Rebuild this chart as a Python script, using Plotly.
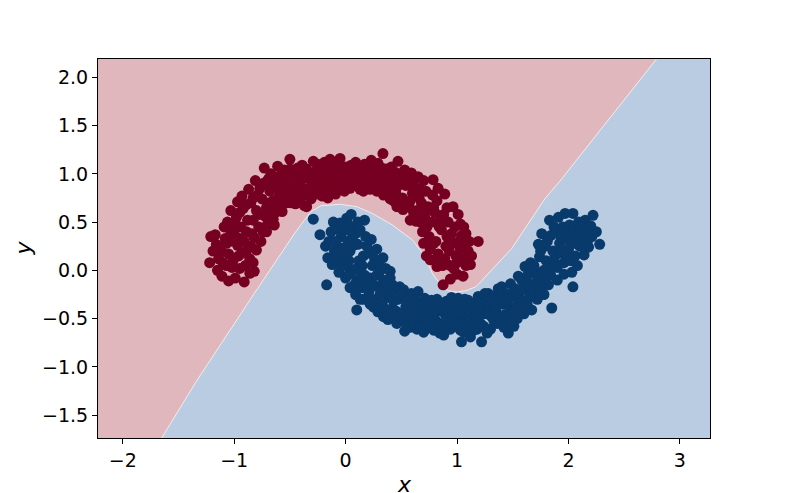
import plotly.graph_objects as go

# axis extents and ticks
x_range = [-2.222, 3.27]
y_range = [-1.737, 2.19]
x_ticks = [-2, -1, 0, 1, 2, 3]
y_ticks = [-1.5, -1.0, -0.5, 0.0, 0.5, 1.0, 1.5, 2.0]

# decision boundary
boundary_x = [-1.65, -1.34, -0.82, -0.46, -0.37, -0.31, -0.22, -0.05, 0.10, 0.24, 0.42,
              0.60, 0.71, 0.78, 0.86, 0.92, 1.00, 1.08, 1.17, 1.31, 1.49, 1.79, 1.92, 2.79]
boundary_y = [-1.737, -1.15, -0.24, 0.38, 0.52, 0.61, 0.67, 0.685, 0.66, 0.59, 0.47,
              0.315, 0.145, -0.035, -0.16, -0.21, -0.225, -0.21, -0.17, 0.005, 0.225, 0.745, 0.92, 2.19]

# class 0 (upper moon)
red_points = [
    (-1.22, 0.08), (-1.21, 0.35), (-1.19, 0.20),
    (-1.15, 0.00), (-1.17, 0.37), (-1.14, 0.12), (-1.16, 0.27),
    (-1.11, -0.06), (-1.09, 0.45), (-1.12, 0.22), (-1.08, 0.33), (-1.10, 0.08),
    (-1.05, -0.11), (-1.03, 0.62), (-1.06, 0.50), (-1.02, 0.03), (-1.04, 0.30), (-1.05, 0.17), (-1.03, 0.40),
    (-0.99, -0.08), (-0.97, 0.71), (-0.98, 0.55), (-0.96, 0.15), (-1.00, 0.38), (-0.97, 0.26),
    (-0.91, -0.12), (-0.93, 0.77), (-0.92, 0.64), (-0.90, 0.05), (-0.94, 0.45), (-0.91, 0.30), (-0.93, 0.18),
    (-0.86, -0.03), (-0.87, 0.84), (-0.85, 0.70), (-0.88, 0.52), (-0.84, 0.38), (-0.86, 0.12), (-0.85, 0.25),
    (-0.82, -0.01), (-0.80, 0.21), (-0.81, 0.93), (-0.79, 0.78), (-0.80, 0.62), (-0.78, 0.45), (-0.82, 0.34),
    (-0.73, 1.06), (-0.74, 0.90), (-0.75, 0.74), (-0.72, 0.56), (-0.74, 0.40), (-0.76, 0.30),
    (-0.69, 0.95), (-0.67, 1.00), (-0.68, 0.82), (-0.66, 0.62), (-0.70, 0.48), (-0.68, 0.70),
    (-0.61, 1.08), (-0.64, 0.47), (-0.62, 0.93), (-0.60, 0.76), (-0.63, 0.60), (-0.61, 0.85),
    (-0.57, 0.61), (-0.55, 1.04), (-0.56, 0.90), (-0.58, 0.75), (-0.54, 0.82), (-0.56, 0.96),
    (-0.50, 1.15), (-0.49, 0.70), (-0.51, 0.98), (-0.48, 0.85), (-0.52, 0.78), (-0.50, 1.05),
    (-0.45, 0.69), (-0.43, 1.06), (-0.44, 0.92), (-0.46, 0.80), (-0.42, 0.99),
    (-0.37, 0.67), (-0.39, 1.09), (-0.38, 0.85), (-0.36, 0.96), (-0.40, 0.76),
    (-0.35, 0.66), (-0.31, 0.74), (-0.29, 1.13), (-0.33, 1.01), (-0.30, 0.88), (-0.32, 0.94),
    (-0.26, 0.79), (-0.25, 1.10), (-0.27, 0.97), (-0.24, 0.88), (-0.26, 1.04),
    (-0.21, 0.77), (-0.19, 1.12), (-0.20, 0.90), (-0.18, 1.00), (-0.22, 0.84),
    (-0.16, 0.75), (-0.14, 1.15), (-0.13, 0.86), (-0.15, 1.05), (-0.12, 0.96),
    (-0.09, 0.79), (-0.07, 1.11), (-0.08, 0.93), (-0.06, 1.02), (-0.10, 0.87),
    (-0.05, 1.16), (-0.01, 0.82), (-0.02, 0.98), (0.00, 1.07), (-0.03, 0.90),
    (0.04, 0.85), (0.05, 1.09), (0.03, 0.95), (0.06, 1.01), (0.02, 0.91),
    (0.11, 0.87), (0.13, 0.96), (0.09, 1.12), (0.10, 1.03), (0.12, 0.92),
    (0.16, 0.82), (0.17, 1.10), (0.15, 0.98), (0.18, 0.90), (0.14, 1.05),
    (0.22, 0.84), (0.23, 1.14), (0.21, 0.96), (0.24, 1.04), (0.20, 0.90),
    (0.28, 0.82), (0.29, 1.11), (0.27, 0.92), (0.30, 1.00), (0.26, 1.06),
    (0.34, 0.78), (0.335, 1.21), (0.33, 0.90), (0.36, 1.05), (0.35, 0.97),
    (0.40, 0.74), (0.41, 1.07), (0.39, 0.85), (0.42, 0.96), (0.38, 1.01),
    (0.46, 0.66), (0.47, 1.13), (0.45, 0.80), (0.48, 0.92), (0.44, 1.02), (0.46, 0.86),
    (0.515, 0.63), (0.53, 1.04), (0.51, 0.75), (0.54, 0.88), (0.52, 0.96),
    (0.58, 0.52), (0.59, 1.01), (0.57, 0.66), (0.60, 0.80), (0.56, 0.92), (0.58, 0.72),
    (0.63, 0.51), (0.65, 0.97), (0.64, 0.62), (0.66, 0.75), (0.62, 0.86), (0.65, 0.56),
    (0.725, 0.15), (0.70, 0.93), (0.69, 0.40), (0.71, 0.55), (0.68, 0.70), (0.72, 0.82), (0.70, 0.28),
    (0.76, 0.11), (0.785, 0.94), (0.75, 0.35), (0.77, 0.50), (0.74, 0.66), (0.78, 0.78), (0.76, 0.22),
    (0.82, 0.04), (0.83, 0.85), (0.81, 0.30), (0.84, 0.45), (0.80, 0.60), (0.82, 0.72), (0.83, 0.17),
    (0.875, -0.15), (0.89, 0.79), (0.87, 0.05), (0.90, 0.25), (0.86, 0.42), (0.88, 0.58), (0.89, 0.12),
    (0.94, -0.09), (0.964, 0.66), (0.93, 0.20), (0.95, 0.38), (0.92, 0.50), (0.94, 0.05),
    (1.00, -0.04), (1.01, 0.58), (0.99, 0.15), (1.02, 0.30), (0.98, 0.45), (1.00, 0.08),
    (1.054, -0.06), (1.06, 0.45), (1.05, 0.12), (1.07, 0.27), (1.04, 0.36),
    (1.10, 0.20), (1.11, 0.30), (1.12, 0.06), (1.13, 0.15),
    (1.19, 0.30),
    # denser middle of the band
    (-1.13, 0.18), (-1.07, 0.28), (-1.07, 0.05), (-1.01, 0.48), (-1.01, 0.10), (-0.95, 0.60),
    (-0.95, 0.33), (-0.95, 0.02), (-0.89, 0.68), (-0.89, 0.40), (-0.89, 0.20), (-0.83, 0.75),
    (-0.83, 0.52), (-0.83, 0.08), (-0.77, 0.85), (-0.77, 0.58), (-0.71, 0.92), (-0.71, 0.65),
    (-0.71, 0.40), (-0.65, 0.88), (-0.65, 0.72), (-0.65, 0.53), (-0.59, 0.98), (-0.59, 0.68),
    (-0.53, 0.92), (-0.53, 0.70), (-0.47, 1.00), (-0.47, 0.75), (-0.41, 0.88), (-0.41, 1.03),
    (-0.35, 0.78), (-0.35, 1.05), (-0.29, 0.82), (-0.29, 0.98), (-0.23, 0.94), (-0.23, 1.06),
    (-0.17, 0.82), (-0.17, 0.95), (-0.11, 1.06), (-0.11, 0.80), (-0.04, 0.85), (-0.04, 1.03),
    (0.01, 0.88), (0.07, 0.94), (0.07, 1.05), (0.13, 0.84), (0.13, 1.07), (0.19, 0.95),
    (0.19, 1.03), (0.25, 0.88), (0.25, 0.99), (0.31, 0.85), (0.31, 1.07), (0.37, 0.80),
    (0.37, 0.93), (0.43, 0.72), (0.43, 0.88), (0.49, 0.70), (0.49, 1.00), (0.55, 0.70),
    (0.55, 0.98), (0.61, 0.60), (0.61, 0.92), (0.67, 0.50), (0.67, 0.84), (0.73, 0.45),
    (0.73, 0.62), (0.79, 0.28), (0.79, 0.65), (0.85, 0.10), (0.85, 0.52), (0.91, 0.35),
    (0.91, 0.65), (0.97, 0.02), (0.97, 0.28), (1.03, 0.22), (1.03, 0.48), (1.08, 0.05),
    (1.08, 0.38),
]

# class 1 (lower moon)
blue_points = [
    (-0.29, 0.53), (-0.23, 0.37), (-0.17, -0.15),
    (-0.16, 0.13), (-0.18, 0.25), (-0.15, 0.30),
    (-0.12, 0.06), (-0.11, 0.50), (-0.13, 0.40), (-0.10, 0.20), (-0.12, 0.30),
    (-0.06, -0.02), (-0.05, 0.49), (-0.07, 0.12), (-0.04, 0.35), (-0.06, 0.24), (-0.05, 0.42),
    (0.00, -0.08), (0.01, 0.54), (-0.01, 0.15), (0.02, 0.30), (0.00, 0.42), (0.01, 0.05),
    (0.04, -0.18), (0.05, 0.58), (0.06, 0.00), (0.04, 0.20), (0.05, 0.45), (0.06, 0.34), (0.03, 0.10),
    (0.10, -0.41), (0.11, 0.50), (0.09, -0.25), (0.10, -0.10), (0.12, 0.10), (0.11, 0.27), (0.09, 0.38), (0.10, 0.02),
    (0.17, 0.52), (0.16, -0.30), (0.15, -0.18), (0.17, -0.05), (0.16, 0.15), (0.18, 0.35), (0.15, 0.05),
    (0.22, -0.35), (0.23, 0.32), (0.21, -0.22), (0.22, -0.08), (0.24, 0.05), (0.21, 0.18),
    (0.29, -0.43), (0.28, 0.22), (0.27, -0.30), (0.29, -0.17), (0.28, -0.05), (0.30, 0.08),
    (0.335, 0.13), (0.34, -0.48), (0.33, -0.35), (0.35, -0.22), (0.34, -0.10), (0.36, 0.02),
    (0.38, -0.51), (0.40, -0.01), (0.41, -0.40), (0.39, -0.28), (0.42, -0.15), (0.40, -0.08),
    (0.46, -0.55), (0.485, -0.17), (0.45, -0.42), (0.47, -0.30), (0.44, -0.20),
    (0.53, -0.63), (0.52, -0.20), (0.51, -0.50), (0.54, -0.38), (0.52, -0.28),
    (0.58, -0.59), (0.59, -0.24), (0.57, -0.47), (0.60, -0.35), (0.56, -0.53),
    (0.64, -0.61), (0.65, -0.22), (0.63, -0.50), (0.66, -0.38), (0.62, -0.30),
    (0.70, -0.64), (0.71, -0.29), (0.69, -0.52), (0.72, -0.42), (0.68, -0.36),
    (0.76, -0.59), (0.77, -0.31), (0.75, -0.48), (0.78, -0.40), (0.74, -0.55),
    (0.845, -0.65), (0.82, -0.30), (0.81, -0.52), (0.83, -0.42), (0.80, -0.36),
    (0.88, -0.67), (0.905, -0.32), (0.87, -0.55), (0.89, -0.45), (0.90, -0.38),
    (0.94, -0.61), (0.95, -0.28), (0.93, -0.50), (0.96, -0.40), (0.92, -0.34),
    (1.04, -0.74), (1.00, -0.58), (1.01, -0.29), (0.99, -0.47), (1.02, -0.38),
    (1.06, -0.64), (1.07, -0.30), (1.05, -0.52), (1.08, -0.42), (1.04, -0.36),
    (1.10, -0.31), (1.12, -0.69), (1.13, -0.55), (1.11, -0.45), (1.14, -0.38),
    (1.18, -0.61), (1.19, -0.27), (1.17, -0.50), (1.20, -0.40), (1.16, -0.34),
    (1.22, -0.74), (1.24, -0.58), (1.25, -0.24), (1.23, -0.45), (1.26, -0.35),
    (1.28, -0.24), (1.30, -0.61), (1.31, -0.48), (1.29, -0.36), (1.32, -0.30),
    (1.36, -0.55), (1.37, -0.19), (1.35, -0.43), (1.38, -0.32), (1.34, -0.26),
    (1.40, -0.17), (1.42, -0.59), (1.43, -0.46), (1.41, -0.35), (1.44, -0.24),
    (1.46, -0.65), (1.48, -0.14), (1.49, -0.50), (1.47, -0.38), (1.50, -0.27),
    (1.52, -0.19), (1.54, -0.50), (1.55, -0.06), (1.53, -0.37), (1.56, -0.28),
    (1.60, -0.45), (1.61, 0.04), (1.59, -0.32), (1.62, -0.20), (1.58, -0.10),
    (1.67, -0.41), (1.66, 0.08), (1.65, -0.28), (1.68, -0.15), (1.64, -0.04),
    (1.72, -0.30), (1.73, 0.27), (1.71, -0.16), (1.74, 0.14), (1.70, 0.00), (1.72, -0.07),
    (1.78, -0.25), (1.76, 0.38), (1.79, 0.25), (1.77, -0.10), (1.80, 0.10), (1.78, 0.00),
    (1.85, -0.39), (1.83, 0.52), (1.84, 0.36), (1.86, 0.20), (1.82, -0.15), (1.85, 0.05), (1.84, -0.05),
    (1.90, -0.10), (1.91, 0.55), (1.89, 0.42), (1.92, 0.28), (1.88, 0.15), (1.90, 0.03),
    (1.97, 0.59), (1.96, -0.04), (1.95, 0.45), (1.98, 0.32), (1.94, 0.18), (1.96, 0.08),
    (2.04, 0.59), (2.04, -0.17), (2.01, 0.47), (2.03, 0.35), (2.00, 0.22), (2.02, 0.10), (2.03, -0.02),
    (2.08, 0.05), (2.09, 0.50), (2.07, 0.38), (2.10, 0.25), (2.06, 0.15),
    (2.12, 0.39), (2.14, 0.16), (2.15, 0.52), (2.13, 0.28),
    (2.18, 0.24), (2.22, 0.57), (2.20, 0.46), (2.21, 0.35),
    (2.25, 0.40), (2.28, 0.27),
    # denser middle of the band
    (-0.09, 0.30), (-0.09, 0.45), (-0.03, 0.05), (-0.03, 0.22), (0.02, 0.48), (0.03, -0.04),
    (0.07, 0.26), (0.08, -0.15), (0.13, -0.30), (0.13, 0.42), (0.14, -0.02), (0.19, 0.25),
    (0.19, -0.12), (0.20, -0.28), (0.25, -0.38), (0.25, -0.15), (0.26, 0.12), (0.31, -0.25),
    (0.31, 0.00), (0.37, -0.42), (0.37, -0.15), (0.43, -0.48), (0.43, -0.32), (0.49, -0.45),
    (0.49, -0.25), (0.55, -0.58), (0.55, -0.32), (0.61, -0.43), (0.61, -0.55), (0.67, -0.46),
    (0.67, -0.58), (0.73, -0.35), (0.73, -0.50), (0.79, -0.62), (0.79, -0.45), (0.85, -0.36),
    (0.85, -0.58), (0.91, -0.50), (0.91, -0.60), (0.97, -0.55), (0.97, -0.34), (1.03, -0.62),
    (1.03, -0.45), (1.09, -0.58), (1.09, -0.35), (1.15, -0.48), (1.15, -0.62), (1.21, -0.55),
    (1.21, -0.32), (1.27, -0.45), (1.27, -0.65), (1.33, -0.40), (1.33, -0.52), (1.39, -0.50),
    (1.39, -0.25), (1.45, -0.30), (1.45, -0.52), (1.51, -0.42), (1.51, -0.58), (1.57, -0.20),
    (1.57, -0.40), (1.63, -0.35), (1.63, -0.12), (1.69, -0.22), (1.69, 0.05), (1.75, -0.18),
    (1.75, 0.20), (1.81, 0.30), (1.81, -0.02), (1.87, 0.45), (1.87, 0.10), (1.93, 0.35),
    (1.93, 0.22), (1.99, 0.40), (1.99, 0.12), (2.05, 0.28), (2.05, 0.45), (2.11, 0.45),
    (2.11, 0.32), (2.17, 0.40), (2.17, 0.30),
]

red_x = [p[0] for p in red_points]
red_y = [p[1] for p in red_points]
blue_x = [p[0] for p in blue_points]
blue_y = [p[1] for p in blue_points]

bg_red = '#e0b7bd'
bg_blue = '#b9cce1'
dot_red = '#760021'
dot_blue = '#083a6c'

fig = go.Figure()

# red decision region: left/top of boundary
region_x = [x_range[0]] + boundary_x + [x_range[0]]
region_y = [y_range[0]] + boundary_y + [y_range[1]]
fig.add_trace(go.Scatter(
    x=region_x, y=region_y,
    mode='lines', fill='toself', fillcolor=bg_red,
    line=dict(width=0), hoverinfo='skip', showlegend=False
))

# thin light line on the boundary
fig.add_trace(go.Scatter(
    x=boundary_x, y=boundary_y,
    mode='lines', line=dict(color='rgba(255,255,255,0.7)', width=1),
    hoverinfo='skip', showlegend=False
))

fig.add_trace(go.Scatter(
    x=red_x, y=red_y, mode='markers',
    marker=dict(size=11, color=dot_red, line=dict(width=0)),
    showlegend=False
))
fig.add_trace(go.Scatter(
    x=blue_x, y=blue_y, mode='markers',
    marker=dict(size=11, color=dot_blue, line=dict(width=0)),
    showlegend=False
))

axis_style = dict(
    showgrid=False, zeroline=False, automargin=False,
    showline=True, mirror=True, linecolor='black', linewidth=1,
    ticks='outside', ticklen=5, tickwidth=1, tickcolor='black',
    tickfont=dict(family='DejaVu Sans', size=19, color='black'),
)

# the page body adds an 8px offset, so the figure is a bit smaller than the window
fig.update_layout(
    width=781, height=485,
    margin=dict(l=90, r=79, t=51, b=55),
    plot_bgcolor=bg_blue,
    paper_bgcolor='white',
    font=dict(family='DejaVu Sans', color='black'),
    xaxis=dict(range=x_range, tickvals=x_ticks, **axis_style),
    yaxis=dict(range=y_range, tickvals=y_ticks, tickformat='.1f', **axis_style),
)

# axis labels
fig.add_annotation(text='<i>x</i>', xref='paper', yref='paper', x=0.5, y=-0.124,
                   xanchor='center', yanchor='middle', showarrow=False,
                   font=dict(family='DejaVu Sans', size=22, color='black'))
fig.add_annotation(text='<i>y</i>', xref='paper', yref='paper', x=-0.1225, y=0.5,
                   xanchor='center', yanchor='middle', showarrow=False, textangle=-90,
                   font=dict(family='DejaVu Sans', size=22, color='black'))

fig.write_html("out.html")
